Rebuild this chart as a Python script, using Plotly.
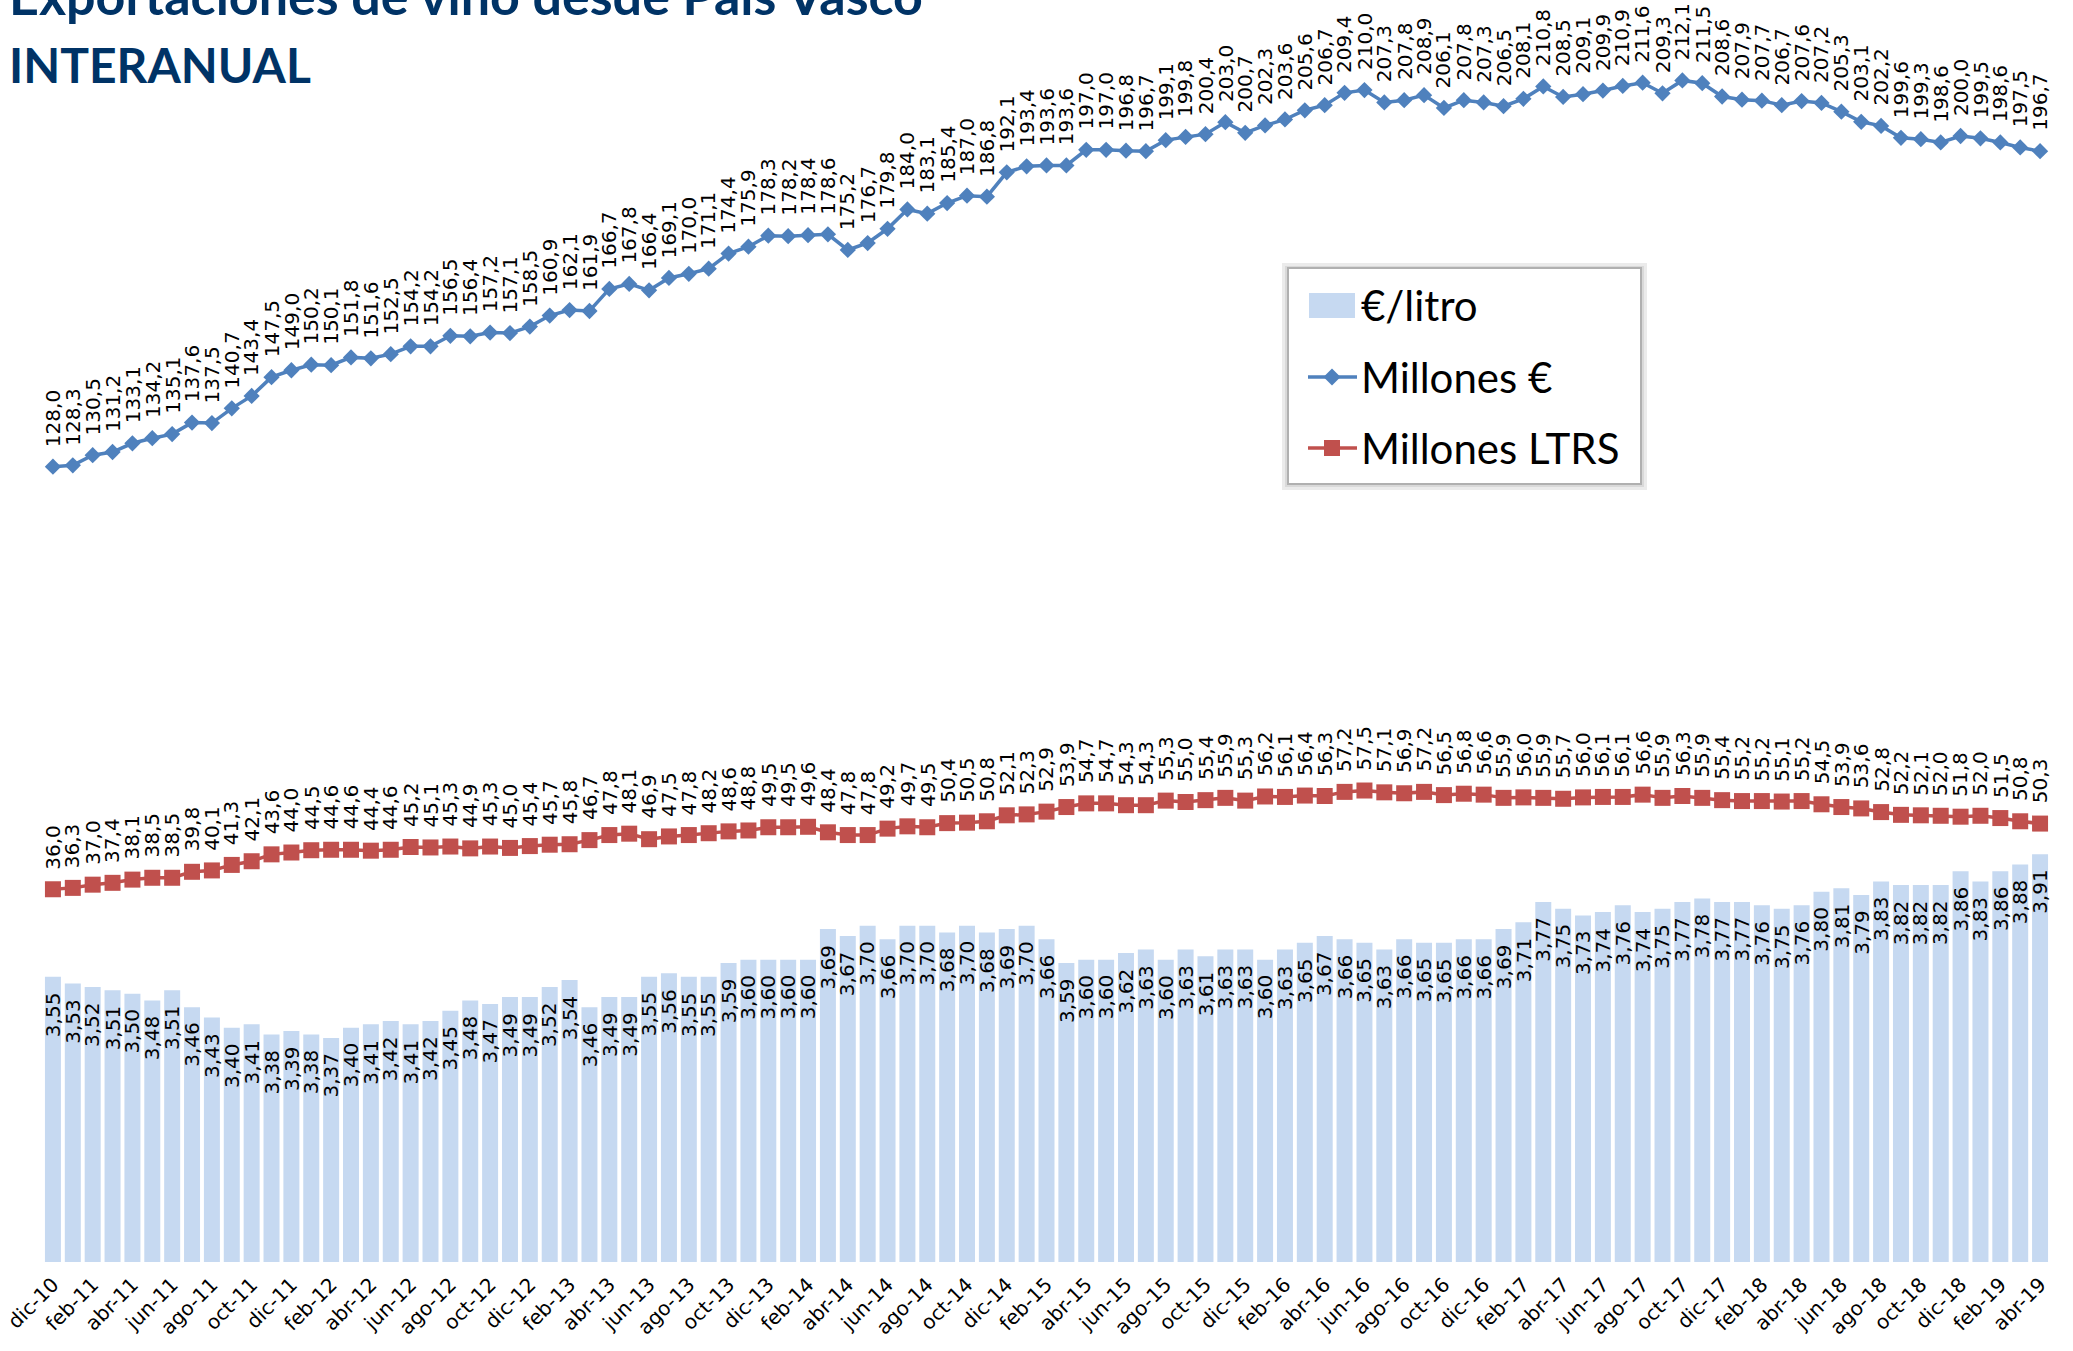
import plotly.graph_objects as go

# ---------------- DATA ----------------
MONTHS = ["ene", "feb", "mar", "abr", "may", "jun", "jul", "ago", "sep", "oct", "nov", "dic"]
categories = [f"{MONTHS[(11 + i) % 12]}-{10 + (11 + i) // 12:02d}" for i in range(101)]  # dic-10 ... abr-19
tick_labels = categories[::2]

millones_eur = [
    128.0, 128.3, 130.5, 131.2, 133.1, 134.2, 135.1, 137.6, 137.5, 140.7,
    143.4, 147.5, 149.0, 150.2, 150.1, 151.8, 151.6, 152.5, 154.2, 154.2,
    156.5, 156.4, 157.2, 157.1, 158.5, 160.9, 162.1, 161.9, 166.7, 167.8,
    166.4, 169.1, 170.0, 171.1, 174.4, 175.9, 178.3, 178.2, 178.4, 178.6,
    175.2, 176.7, 179.8, 184.0, 183.1, 185.4, 187.0, 186.8, 192.1, 193.4,
    193.6, 193.6, 197.0, 197.0, 196.8, 196.7, 199.1, 199.8, 200.4, 203.0,
    200.7, 202.3, 203.6, 205.6, 206.7, 209.4, 210.0, 207.3, 207.8, 208.9,
    206.1, 207.8, 207.3, 206.5, 208.1, 210.8, 208.5, 209.1, 209.9, 210.9,
    211.6, 209.3, 212.1, 211.5, 208.6, 207.9, 207.7, 206.7, 207.6, 207.2,
    205.3, 203.1, 202.2, 199.6, 199.3, 198.6, 200.0, 199.5, 198.6, 197.5,
    196.7,
]

millones_ltrs = [
    36.0, 36.3, 37.0, 37.4, 38.1, 38.5, 38.5, 39.8, 40.1, 41.3,
    42.1, 43.6, 44.0, 44.5, 44.6, 44.6, 44.4, 44.6, 45.2, 45.1,
    45.3, 44.9, 45.3, 45.0, 45.4, 45.7, 45.8, 46.7, 47.8, 48.1,
    46.9, 47.5, 47.8, 48.2, 48.6, 48.8, 49.5, 49.5, 49.6, 48.4,
    47.8, 47.8, 49.2, 49.7, 49.5, 50.4, 50.5, 50.8, 52.1, 52.3,
    52.9, 53.9, 54.7, 54.7, 54.3, 54.3, 55.3, 55.0, 55.4, 55.9,
    55.3, 56.2, 56.1, 56.4, 56.3, 57.2, 57.5, 57.1, 56.9, 57.2,
    56.5, 56.8, 56.6, 55.9, 56.0, 55.9, 55.7, 56.0, 56.1, 56.1,
    56.6, 55.9, 56.3, 55.9, 55.4, 55.2, 55.2, 55.1, 55.2, 54.5,
    53.9, 53.6, 52.8, 52.2, 52.1, 52.0, 51.8, 52.0, 51.5, 50.8,
    50.3,
]

eur_litro = [
    3.55, 3.53, 3.52, 3.51, 3.50, 3.48, 3.51, 3.46, 3.43, 3.40,
    3.41, 3.38, 3.39, 3.38, 3.37, 3.40, 3.41, 3.42, 3.41, 3.42,
    3.45, 3.48, 3.47, 3.49, 3.49, 3.52, 3.54, 3.46, 3.49, 3.49,
    3.55, 3.56, 3.55, 3.55, 3.59, 3.60, 3.60, 3.60, 3.60, 3.69,
    3.67, 3.70, 3.66, 3.70, 3.70, 3.68, 3.70, 3.68, 3.69, 3.70,
    3.66, 3.59, 3.60, 3.60, 3.62, 3.63, 3.60, 3.63, 3.61, 3.63,
    3.63, 3.60, 3.63, 3.65, 3.67, 3.66, 3.65, 3.63, 3.66, 3.65,
    3.65, 3.66, 3.66, 3.69, 3.71, 3.77, 3.75, 3.73, 3.74, 3.76,
    3.74, 3.75, 3.77, 3.78, 3.77, 3.77, 3.76, 3.75, 3.76, 3.80,
    3.81, 3.79, 3.83, 3.82, 3.82, 3.82, 3.86, 3.83, 3.86, 3.88,
    3.91,
]

# ---------------- LAYOUT GEOMETRY ----------------
W, H = 2073, 1351
PL, PR, PT, PB = 43, 2050, 0, 1262   # plot area edges in px


def px_x(sx):
    return (sx - PL) / (PR - PL)


def px_y(sy):
    return (PB - sy) / (PB - PT)


# vertical scales: px per unit and a reference point
LINE_PX_PER_UNIT, LINE_REF_V, LINE_REF_PX = 4.593, 128.0, 466.7
BAR_PX_PER_UNIT, BAR_REF_V, BAR_REF_PX = 340.0, 3.91, 854.3
Y_LINES = [LINE_REF_V - (PB - LINE_REF_PX) / LINE_PX_PER_UNIT,
           LINE_REF_V + (LINE_REF_PX - PT) / LINE_PX_PER_UNIT]
Y_BARS = [BAR_REF_V - (PB - BAR_REF_PX) / BAR_PX_PER_UNIT,
          BAR_REF_V + (BAR_REF_PX - PT) / BAR_PX_PER_UNIT]

BLUE = "#4F81BD"
RED = "#C0504D"
BAR = "#C6D9F1"
NAVY = "#003366"
LABEL_FONT = dict(family="DejaVu Sans", size=20, color="#000000")


def fmt(v, nd):
    return f"{v:.{nd}f}".replace(".", ",")


fig = go.Figure()

fig.add_trace(go.Bar(
    x=categories, y=eur_litro, name="€/litro", yaxis="y",
    marker=dict(color=BAR, line=dict(width=0)), showlegend=False,
))
fig.add_trace(go.Scatter(
    x=categories, y=millones_eur, name="Millones €", yaxis="y2",
    mode="lines+markers", line=dict(color=BLUE, width=3.5),
    marker=dict(symbol="diamond", size=12.5, color=BLUE), showlegend=False,
))
fig.add_trace(go.Scatter(
    x=categories, y=millones_ltrs, name="Millones LTRS", yaxis="y2",
    mode="lines+markers", line=dict(color=RED, width=3.5),
    marker=dict(symbol="square", size=16, color=RED), showlegend=False,
))

annotations = []
for c, v in zip(categories, millones_eur):
    annotations.append(dict(x=c, y=v, xref="x", yref="y2", text=fmt(v, 1), textangle=-90,
                            xanchor="center", yanchor="bottom", yshift=18, showarrow=False,
                            font=LABEL_FONT))
for c, v in zip(categories, millones_ltrs):
    annotations.append(dict(x=c, y=v, xref="x", yref="y2", text=fmt(v, 1), textangle=-90,
                            xanchor="center", yanchor="bottom", yshift=18, showarrow=False,
                            font=LABEL_FONT))
for c, v in zip(categories, eur_litro):
    annotations.append(dict(x=c, y=v, xref="x", yref="y", text=fmt(v, 2), textangle=-90,
                            xanchor="center", yanchor="top", yshift=-13, showarrow=False,
                            font=LABEL_FONT))

# Titles
annotations.append(dict(x=px_x(7), y=px_y(-5), xref="paper", yref="paper",
                        text="<b>Exportaciones de vino desde País Vasco</b>", showarrow=False,
                        xanchor="left", yanchor="middle",
                        font=dict(family="Lato", size=52, color=NAVY)))
annotations.append(dict(x=px_x(7), y=px_y(64.5), xref="paper", yref="paper",
                        text="<b>INTERANUAL</b>", showarrow=False,
                        xanchor="left", yanchor="middle",
                        font=dict(family="Lato", size=48, color=NAVY)))

# Legend (drawn)
LEG_FONT = dict(family="Lato", size=42, color="#000000")
for txt, cy in [("€/litro", 305), ("Millones €", 377), ("Millones LTRS", 448)]:
    annotations.append(dict(x=px_x(1359), y=px_y(cy), xref="paper", yref="paper", text=txt,
                            showarrow=False, xanchor="left", yanchor="middle", font=LEG_FONT))


def prect(x0, y0, x1, y1, **kw):
    return dict(type="rect", xref="paper", yref="paper",
                x0=px_x(x0), x1=px_x(x1), y0=px_y(y1), y1=px_y(y0), **kw)


def pline(x0, y0, x1, y1, **kw):
    return dict(type="line", xref="paper", yref="paper",
                x0=px_x(x0), x1=px_x(x1), y0=px_y(y0), y1=px_y(y1), **kw)


def ppath(points, **kw):
    d = "M " + " L ".join(f"{px_x(a):.6f},{px_y(b):.6f}" for a, b in points) + " Z"
    return dict(type="path", xref="paper", yref="paper", path=d, **kw)


shapes = [
    prect(1282, 263, 1647, 490, fillcolor="#EBEBEB", line=dict(width=0), layer="above"),
    prect(1285, 266, 1644, 487, fillcolor="#D9D9D9", line=dict(width=0), layer="above"),
    prect(1288, 268, 1641, 484, fillcolor="#FFFFFF", line=dict(color="#B0B0B0", width=2), layer="above"),
    prect(1309, 293, 1355, 318, fillcolor=BAR, line=dict(width=0), layer="above"),
    pline(1308, 377, 1357, 377, line=dict(color=BLUE, width=3.5), layer="above"),
    ppath([(1332, 368.5), (1340.5, 377), (1332, 385.5), (1323.5, 377)],
          fillcolor=BLUE, line=dict(width=0), layer="above"),
    pline(1308, 448, 1357, 448, line=dict(color=RED, width=3.5), layer="above"),
    prect(1324, 440, 1340, 456, fillcolor=RED, line=dict(width=0), layer="above"),
]

fig.update_layout(
    width=W, height=H,
    margin=dict(l=PL, r=W - PR, t=PT, b=H - PB, autoexpand=False),
    paper_bgcolor="white", plot_bgcolor="white",
    bargap=0.195,
    showlegend=False,
    xaxis=dict(type="category", range=[-0.5, 100.5], tickmode="array",
               tickvals=tick_labels, ticktext=tick_labels, tickangle=-45,
               tickfont=dict(family="DejaVu Sans", size=20, color="#000000"),
               ticklabelstandoff=6,
               showgrid=False, showline=False, zeroline=False, ticks=""),
    yaxis=dict(range=Y_BARS, visible=False, showgrid=False, zeroline=False),
    yaxis2=dict(range=Y_LINES, overlaying="y", side="right", visible=False,
                showgrid=False, zeroline=False),
    annotations=annotations,
    shapes=shapes,
)

# remove the browser's default 8px body margin so the figure fills the window exactly
fig.write_html(
    "out.html",
    config={"displayModeBar": False},
    post_script="document.body.style.margin='0px';document.body.style.overflow='hidden';",
)
